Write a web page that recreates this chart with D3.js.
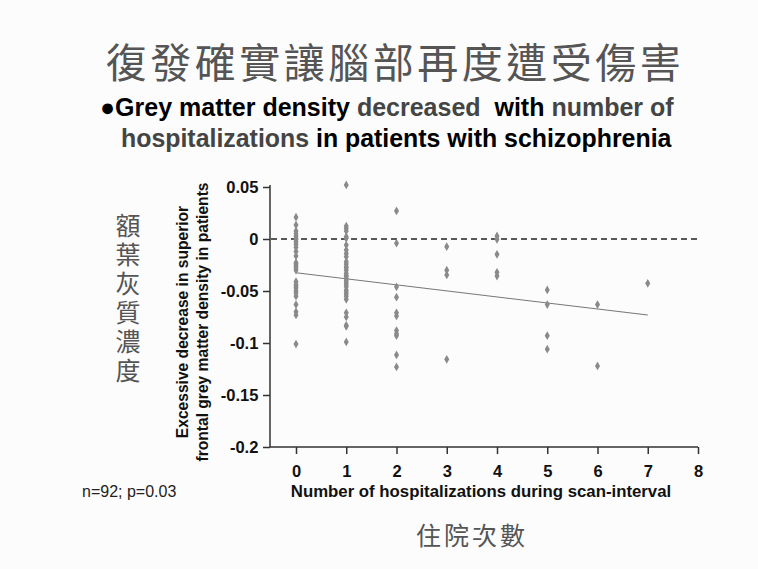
<!DOCTYPE html>
<html>
<head>
<meta charset="utf-8">
<script src="https://cdn.jsdelivr.net/npm/d3@7"></script>
<style>
  body { margin: 0; background: #fcfcfc; }
  svg { display: block; }
  .bold { font-family: "Liberation Sans", Arial, sans-serif; font-weight: bold; }
  .cjk { font-family: "Noto Sans CJK TC", sans-serif; fill: #555; }
</style>
</head>
<body>
<div id="chart"></div>
<script>
// hospitalizations during scan interval -> excess decrease values
var hosp0 = [0.021, 0.0135, 0.0077, 0.005, 0.0029, 0.0007, -0.0005, -0.0026, -0.005, -0.008, -0.012,
             -0.0163, -0.0228, -0.024, -0.026, -0.028, -0.030, -0.041, -0.044, -0.046, -0.047,
             -0.050, -0.052, -0.055, -0.063, -0.070, -0.073, -0.101];
var hosp1 = [0.052, 0.0125, 0.0103, 0.0077, 0.0022, 0.0007, -0.0058, -0.0106, -0.014, -0.017,
             -0.0218, -0.024, -0.0266, -0.028, -0.030, -0.033, -0.035, -0.036, -0.038, -0.040,
             -0.042, -0.044, -0.046, -0.049, -0.051, -0.053, -0.055, -0.058, -0.071, -0.075,
             -0.083, -0.084, -0.099];
var hosp2 = [0.027, -0.004, -0.046, -0.056, -0.071, -0.074, -0.088, -0.091, -0.093, -0.1115, -0.123];
var hosp3 = [-0.0074, -0.030, -0.0346, -0.1157];
var hosp4 = [0.003, -0.0003, -0.0147, -0.032, -0.0356];
var hosp5 = [-0.049, -0.063, -0.093, -0.106];
var hosp6 = [-0.063, -0.122];
var hosp7 = [-0.0426];

var groups = [hosp0, hosp1, hosp2, hosp3, hosp4, hosp5, hosp6, hosp7];
var xTicks = [0, 1, 2, 3, 4, 5, 6, 7, 8];
var yTicks = [0.05, 0, -0.05, -0.1, -0.15, -0.2];
var yTickLabels = ["0.05", "0", "-0.05", "-0.1", "-0.15", "-0.2"];
var fitLine = [[0, -0.0324], [7, -0.0731]];

var width = 758, height = 569;

var svg = d3.select("#chart").append("svg")
    .attr("width", width)
    .attr("height", height);

var x = d3.scaleLinear().domain([0, 8]).range([296, 698]);
var y = d3.scaleLinear().domain([-0.2, 0.05]).range([447, 187]);

// title
svg.append("text")
    .attr("class", "cjk")
    .attr("x", 395).attr("y", 78)
    .attr("text-anchor", "middle")
    .attr("font-size", 41)
    .attr("letter-spacing", 3.5)
    .text("復發確實讓腦部再度遭受傷害");

var sub1 = svg.append("text").attr("class", "bold")
    .attr("x", 100).attr("y", 116).attr("font-size", 25)
    .style("white-space", "pre");
sub1.append("tspan").attr("fill", "#000").text("●Grey matter density ");
sub1.append("tspan").attr("fill", "#444").text("decreased");
sub1.append("tspan").attr("fill", "#000").text("  with ");
sub1.append("tspan").attr("fill", "#444").text("number of");

var sub2 = svg.append("text").attr("class", "bold")
    .attr("x", 121).attr("y", 147).attr("font-size", 24.9);
sub2.append("tspan").attr("fill", "#444").text("hospitalizations");
sub2.append("tspan").attr("fill", "#000").text(" in patients with schizophrenia");

// chinese y label, vertical
svg.append("text")
    .attr("class", "cjk")
    .attr("x", 128).attr("y", 213)
    .attr("style", "writing-mode: vertical-rl")
    .attr("font-size", 25)
    .attr("letter-spacing", 4)
    .text("額葉灰質濃度");

// english y title
svg.append("text").attr("class", "bold")
    .attr("transform", "translate(188,322) rotate(-90)")
    .attr("text-anchor", "middle")
    .attr("font-size", 15.6)
    .attr("fill", "#111")
    .text("Excessive decrease in superior");
svg.append("text").attr("class", "bold")
    .attr("transform", "translate(208,322) rotate(-90)")
    .attr("text-anchor", "middle")
    .attr("font-size", 15.6)
    .attr("fill", "#111")
    .text("frontal grey matter density in patients");

// axes
var yAxis = d3.axisLeft(y)
    .tickValues(yTicks)
    .tickSize(7)
    .tickFormat(function(d, i) { return yTickLabels[i]; });
var gy = svg.append("g")
    .attr("transform", "translate(270,0)")
    .call(yAxis);

var xAxis = d3.axisBottom(x)
    .tickValues(xTicks)
    .tickSize(7)
    .tickFormat(d3.format("d"));
var gx = svg.append("g")
    .attr("transform", "translate(0,447)")
    .call(xAxis);

[gx, gy].forEach(function(g) {
  g.select(".domain").remove();
  g.selectAll(".tick line").attr("stroke", "#333").attr("stroke-width", 1.5);
  g.selectAll(".tick text")
    .attr("class", "bold")
    .attr("font-size", 16.5)
    .attr("fill", "#111");
});
gx.selectAll(".tick text").attr("dy", "1.2em");
gy.selectAll(".tick text").attr("dx", "-0.1em");

svg.append("line")
    .attr("x1", 270).attr("x2", 270)
    .attr("y1", y(0.052)).attr("y2", y(-0.2))
    .attr("stroke", "#333").attr("stroke-width", 1.5);
svg.append("line")
    .attr("x1", 270).attr("x2", x(8))
    .attr("y1", y(-0.2)).attr("y2", y(-0.2))
    .attr("stroke", "#333").attr("stroke-width", 1.5);

// zero reference
svg.append("line")
    .attr("x1", 271).attr("x2", x(8))
    .attr("y1", y(0)).attr("y2", y(0))
    .attr("stroke", "#222").attr("stroke-width", 1.6)
    .attr("stroke-dasharray", "6,4");

// fitted line
svg.append("line")
    .attr("x1", x(fitLine[0][0])).attr("y1", y(fitLine[0][1]))
    .attr("x2", x(fitLine[1][0])).attr("y2", y(fitLine[1][1]))
    .attr("stroke", "#777").attr("stroke-width", 1.1);

// points
var pts = [];
groups.forEach(function(vals, i) {
  vals.forEach(function(v) { pts.push({ h: i, v: v }); });
});

svg.selectAll(".dot").data(pts).enter().append("path")
    .attr("class", "dot")
    .attr("d", d3.symbol().type(d3.symbolDiamond).size(22))
    .attr("transform", function(d) { return "translate(" + x(d.h) + "," + y(d.v) + ")"; })
    .attr("fill", "#8a8a8a");

// x title
svg.append("text").attr("class", "bold")
    .attr("x", 481).attr("y", 497)
    .attr("text-anchor", "middle")
    .attr("font-size", 16.8)
    .attr("fill", "#111")
    .text("Number of hospitalizations during scan-interval");

svg.append("text")
    .attr("x", 82).attr("y", 497)
    .attr("font-family", "Liberation Sans, Arial, sans-serif")
    .attr("font-size", 16)
    .attr("fill", "#222")
    .text("n=92; p=0.03");

svg.append("text")
    .attr("class", "cjk")
    .attr("x", 472).attr("y", 545)
    .attr("text-anchor", "middle")
    .attr("font-size", 25)
    .attr("letter-spacing", 3)
    .text("住院次數");
</script>
</body>
</html>
